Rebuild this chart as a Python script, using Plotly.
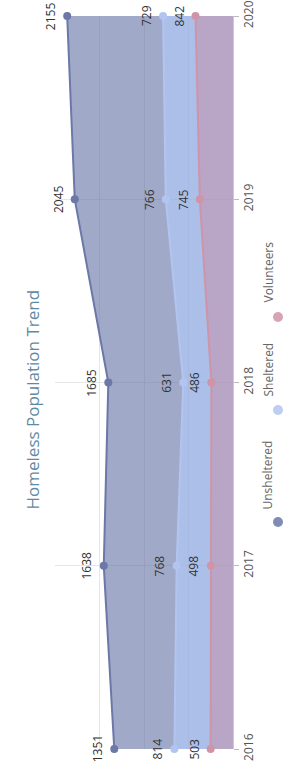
import plotly.graph_objects as go

years = [2016, 2017, 2018, 2019, 2020]
unsheltered = [1351, 1638, 1685, 2045, 2155]
sheltered = [814, 768, 631, 766, 729]
volunteers = [503, 498, 486, 745, 842]
series_names = ["Unsheltered", "Sheltered", "Volunteers"]
title_text = "Homeless Population Trend"

line_colors = {"Unsheltered": "#6b78a8", "Sheltered": "#b2c5f0", "Volunteers": "#cf94a8"}
fill_colors = {"Unsheltered": "rgba(107,120,168,0.64)",
               "Sheltered": "rgba(150,175,228,0.8)",
               "Volunteers": "rgba(167,142,183,0.8)"}

W, H = 286, 771
L, R, T, B = 55, 53, 16, 22
pw, ph = W - L - R, H - T - B

fig = go.Figure()
stack_order = [("Volunteers", volunteers), ("Sheltered", sheltered), ("Unsheltered", unsheltered)]
cum = [0] * len(years)
for name, vals in stack_order:
    fig.add_trace(go.Scatter(
        x=vals, y=years, orientation="h", stackgroup="one", name=name,
        mode="lines+markers",
        line=dict(color=line_colors[name], width=2),
        marker=dict(color=line_colors[name], size=8),
        fillcolor=fill_colors[name], cliponaxis=False, showlegend=False,
    ))
    cum = [c + v for c, v in zip(cum, vals)]
    for yr, c, v in zip(years, cum, vals):
        fig.add_annotation(x=c, y=yr, text=str(v), textangle=-90, showarrow=False,
                           xshift=-17, font=dict(family="Open Sans", size=12, color="#333"))

def px2paper(px, py):
    return (px - L) / pw, (H - B - py) / ph

# title
tx, ty = px2paper(18, 400)
fig.add_annotation(xref="paper", yref="paper", x=tx, y=ty, text=title_text, textangle=-90,
                   showarrow=False, font=dict(family="Open Sans", size=17, color="#5f8aa3"))

# legend
legend_pos = {"Unsheltered": (522, 475), "Sheltered": (410, 370), "Volunteers": (317, 272)}
for name in series_names:
    cy, ly = legend_pos[name]
    cx, cyp = px2paper(278, cy)
    fig.add_shape(type="circle", xref="paper", yref="paper", xsizemode="pixel", ysizemode="pixel",
                  xanchor=cx, yanchor=cyp, x0=-5, x1=5, y0=-5, y1=5,
                  fillcolor=line_colors[name], line=dict(width=0), opacity=0.85)
    lx, lyp = px2paper(278, ly)
    fig.add_annotation(xref="paper", yref="paper", x=lx, y=lyp, text=name, textangle=-90,
                       showarrow=False, font=dict(family="Open Sans", size=12, color="#666"))

fig.update_layout(
    width=W, height=H, margin=dict(l=L, r=R, t=T, b=B, autoexpand=False),
    plot_bgcolor="white", paper_bgcolor="white",
    xaxis=dict(range=[4000, 0], dtick=1000, showticklabels=False, showgrid=True, automargin=False,
               gridcolor="#e6e6e6", zeroline=False, showline=False),
    yaxis=dict(range=[2016, 2020], side="right", tickvals=years, ticktext=[str(y) for y in years],
               tickangle=-90, ticks="outside", ticklen=5, tickcolor="#bbb", showgrid=True,
               automargin=False, gridcolor="#e6e6e6", showline=True, linecolor="#ccc",
               zeroline=False, tickfont=dict(family="Open Sans", size=12, color="#555")),
)

fig.write_html("out.html", config={"displayModeBar": False},
               post_script="document.body.style.margin='0';document.body.style.overflow='hidden';")
